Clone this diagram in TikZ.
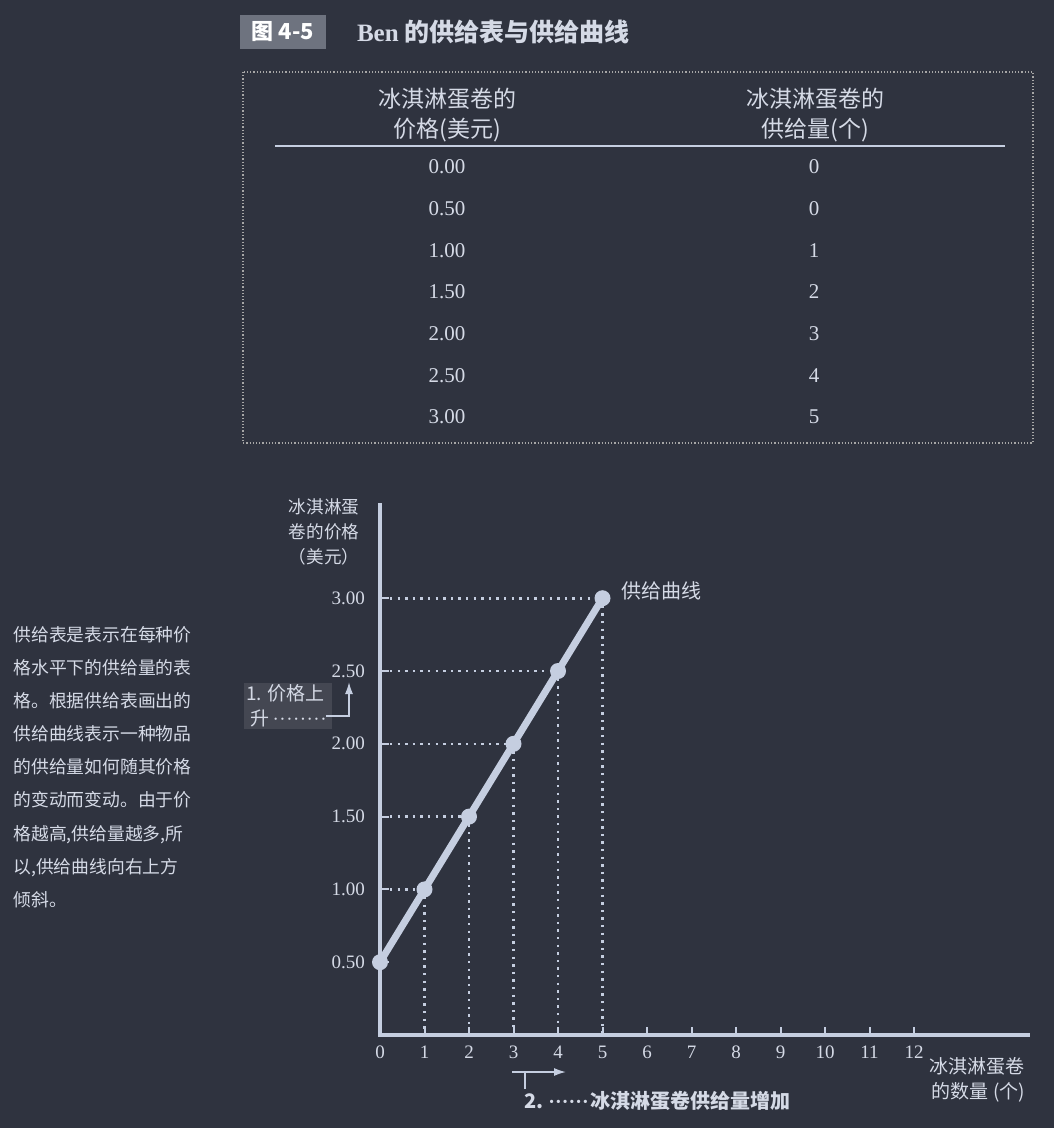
\documentclass[tikz,border=0pt]{standalone}
\usepackage{fontspec}
\setmainfont{Liberation Serif}
\newfontfamily\cjk{Noto Sans CJK SC}
\usetikzlibrary{arrows.meta}
\definecolor{bgc}{HTML}{2F333F}
\definecolor{ink}{HTML}{D5DAE6}
\definecolor{axc}{HTML}{C5CEE0}
\definecolor{boxc}{HTML}{6E737F}
\newcommand\middots[1]{{\rmfamily\cleaders\hbox to 3.4pt{\hss\textperiodcentered\hss}\hskip#1\relax}\kern0pt}

\begin{document}
\begin{tikzpicture}[x=0.5pt, y=-0.5pt, text=ink]
  \tikzset{
    titlebox/.style = {rectangle, fill=boxc, minimum width=43pt, minimum height=15pt,
                       font=\cjk\bfseries\fontsize{11}{13}\selectfont, text=white},
    head/.style = {align=center, font=\cjk\fontsize{11.5}{15}\selectfont},
    num/.style = {font=\fontsize{10.5}{12}\selectfont},
    ticklbl/.style = {font=\fontsize{9.5}{11}\selectfont},
    caption/.style = {font=\cjk\fontsize{9.5}{12.5}\selectfont},
    frame/.style = {draw=gray!70, densely dotted, line width=0.6pt},
    axis/.style = {draw=axc, line width=1.6pt},
    guide/.style = {draw=axc, line width=1.3pt, dash pattern={on 1.2pt off 2.6pt}},
    supply/.style = {draw=axc, line width=3.5pt},
    dot/.style = {circle, fill=axc, minimum size=8pt, inner sep=0pt},
    arrowline/.style = {draw=axc, line width=0.8pt}
  }
  \useasboundingbox[fill=bgc] (0,0) rectangle (1054,1128);

  % title
  \node[titlebox] (fig) at (283,32) {图 4-5};
  \node[anchor=west, font=\bfseries\fontsize{12.5}{14}\selectfont] (title) at (350,32)
    {Ben {\cjk 的供给表与供给曲线}};

  % supply schedule
  \draw[frame] (243,72) rectangle (1033,443);
  \node[head] (h1) at (447,115) {冰淇淋蛋卷的\\价格(美元)};
  \node[head] (h2) at (815,115) {冰淇淋蛋卷的\\供给量(个)};
  \draw[axc, line width=1.1pt] (275,146) -- (1005,146);
  \foreach \p/\q [count=\i from 0] in {0.00/0, 0.50/0, 1.00/1, 1.50/2, 2.00/3, 2.50/4, 3.00/5} {
    \node[num] (pr\i) at (447,{167+41.67*\i}) {\p};
    \node[num] (qs\i) at (814,{167+41.67*\i}) {\q};
  }

  % note on the left
  \node[anchor=north west, align=left, inner sep=0pt, font=\cjk\fontsize{8.9}{16.55}\selectfont] (note) at (13,626)
    {供给表是表示在每种价\\格水平下的供给量的表\\格。根据供给表画出的\\供给曲线表示一种物品\\的供给量如何随其价格\\的变动而变动。由于价\\格越高,供给量越多,所\\以,供给曲线向右上方\\倾斜。};

  % axes
  \coordinate (O) at (380,1035);
  \coordinate (ytop) at (380,503);
  \coordinate (xend) at (1030,1035);
  \draw[axis] (ytop) -- (O) -- (xend);
  \node[anchor=north, align=center, font=\cjk\fontsize{8.8}{12.5}\selectfont] (ylab) at (324,492)
    {冰淇淋蛋\\卷的价格\\（美元）};
  \node[anchor=north east, align=right, caption] (xlab) at (1032,1050)
    {冰淇淋蛋卷\\的数量 (个)};

  \foreach \q in {0,...,12} {
    \node[ticklbl] (xt\q) at ({380+44.5*\q},1052) {\q};
  }
  \foreach \q in {1,...,12} {
    \draw[axis, line width=1pt] ({380+44.5*\q},1035) -- ({380+44.5*\q},1027);
  }
  \foreach \p [count=\i from 0] in {0.50,1.00,1.50,2.00,2.50,3.00} {
    \node[ticklbl, anchor=east] (yt\i) at (372,{1035-145.6*(0.5+0.5*\i)}) {\p};
    \coordinate (ya\i) at (380,{1035-145.6*(0.5+0.5*\i)});
    \coordinate (xa\i) at ({380+44.5*\i},1035);
    \coordinate (c\i) at ({380+44.5*\i},{1035-145.6*(0.5+0.5*\i)});
    \draw[axis, line width=1pt] (ya\i) -- ++(9,0);
  }

  % guides and curve
  \foreach \i in {1,...,5} {
    \draw[guide] (ya\i) ++(10,0) -- (c\i);
    \draw[guide] (c\i) -- (xa\i);
  }
  \draw[supply] (c0) -- (c5);
  \foreach \i in {0,...,5} {
    \node[dot] (p\i) at (c\i) {};
  }
  \node[anchor=west, font=\cjk\fontsize{10}{12}\selectfont] (curvelbl) at (614,591) {供给曲线};

  % price rise
  \node[anchor=west, align=left, caption, fill=bgc!90!white, inner sep=1pt] (rise) at (244,706)
    {1. 价格上\\\ 升\middots{30pt}};
  \coordinate (ra) at (326,716);
  \coordinate (rb) at (349,716);
  \coordinate (rc) at (349,682);
  \draw[arrowline, -{Latex[length=6pt,width=4pt]}] (ra) -- (rb) -- (rc);

  % quantity increase
  \coordinate (qa) at (525,1089);
  \coordinate (qb) at (525,1072);
  \coordinate (qs) at (512,1072);
  \coordinate (qe) at (566,1072);
  \draw[arrowline] (qa) -- (qb);
  \draw[arrowline, -{Latex[length=6pt,width=4pt]}] (qs) -- (qe);
  \node[anchor=west, font=\cjk\bfseries\fontsize{10}{12}\selectfont] (more) at (517,1101)
    {2.\,\middots{22pt}冰淇淋蛋卷供给量增加};
\end{tikzpicture}
\end{document}
